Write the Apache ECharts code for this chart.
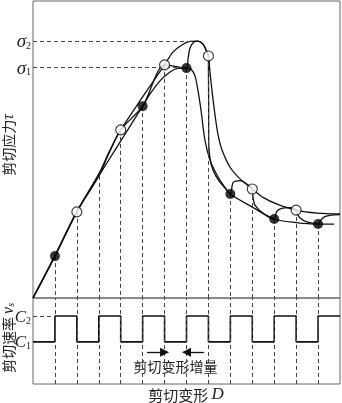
<!DOCTYPE html>
<html><head><meta charset="utf-8">
<script src="https://cdn.jsdelivr.net/npm/echarts@6/dist/echarts.min.js"></script>
<style>html,body{margin:0;padding:0;background:#fff}#c{width:342px;height:403px}</style>
</head><body><div id="c"></div>
<script>
// ---- data (x: shear deformation step index, y: stress in relative units) ----
const sigma1 = 77.6;
const sigma2 = 86.5;
const sigma2End = 7.3;     // where the sigma2 guide meets the peak
const sigma1End = 7;       // where the sigma1 guide meets the C1 peak
const C1 = 4.9;            // low shear rate level
const C2 = 7.9;            // high shear rate level
const rateSchedule = ['C1','C2','C1','C2','C1','C2','C1','C2','C1','C2','C1','C2','C1','C2'];

// continuous curve at the high rate C2
const curveC2 = [[0,0],[1,14.3],[2,29.2],[3,41.8],[3.51,49.8],[4,56.6],[5,67.7],[6,78.5],
  [6.38,82.8],[6.79,85.2],[7.16,86.4],[7.52,86.5],[7.75,85.5],[7.89,83.5],[8,81.5],
  [8.07,76.1],[8.16,70.0],[8.3,61.6],[8.44,54.9],[8.62,49.8],[8.98,44.1],[9.44,40.1],
  [10,36.7],[10.53,33.7],[11.13,31.6],[12,29.6],[12.95,28.6],[14,28.3]];
// continuous curve at the low rate C1
const curveC1 = [[0,0],[1,14.1],[2,29.0],[3,41.1],[3.74,49.8],[5,64.6],[5.34,68.7],[5.79,73.1],
  [6.25,76.1],[6.61,77.3],[7,77.4],[7.2,77.1],[7.39,74.7],[7.52,70.0],[7.66,63.3],[7.84,53.2],
  [8.07,46.5],[8.39,41.4],[8.71,37.7],[9,35.0],[10,30.6],[11,26.6],[12,25.4],[13,24.9],[13.73,24.9]];
// path under step-changing shear rate
const stepPath = [[0,0],[1,14.1],[2,29.0],[3,41.1],[3.5,49.3],[4,56.6],[5,64.6],[6,78.5],[6.48,78.0],
  [7,77.4],[7.07,80.5],[7.16,84.2],[7.34,86.2],[7.52,86.5],[7.75,85.5],[7.89,83.5],[8,81.5],
  [8.0,76.8],[8.01,66.7],[8.01,53.2],[8.07,47.1],[8.21,43.1],[8.48,39.4],[8.8,36.7],[9,35.0],
  [9.13,38.9],[9.44,39.5],[9.75,38.4],[10,36.7],
  [10.03,34.1],[10.12,31.3],[10.5,28.5],[11,26.6],
  [11.11,29.1],[11.34,30.2],[11.72,30.4],[11.95,29.9],[12,29.6],
  [12.04,28.6],[12.18,26.9],[12.49,25.6],[12.86,25.1],[13,24.9],
  [13.13,26.3],[13.31,27.4],[13.59,27.9],[14,28.1]];
const filledMarks = [[1,14.1],[5,64.6],[7,77.4],[9,35.0],[11,26.6],[13,24.9]];
const openMarks = [[2,29.0],[4,56.6],[6,78.5],[8,81.5],[10,36.7],[12,29.6]];
const dropTops = [[1,14.1],[2,29.0],[3,41.1],[4,56.6],[5,64.6],[6,78.5],[7,77.4],[8,81.5],
  [9,35.0],[10,36.7],[11,26.6],[12,29.6],[13,24.9]];
const incrementArrow = {from: 6, to: 7, y: 3.7};

// ---- build ----
const levels = {C1: C1, C2: C2};
const wave = [];
rateSchedule.forEach((r, i) => { wave.push([i, levels[r]]); wave.push([i + 1, levels[r]]); });

const dash = {type: [4, 3], color: '#444', width: 1};
const upperDash = dropTops.map(p => [{coord: [p[0], p[1]]}, {coord: [p[0], 0]}]);
upperDash.push([{coord: [0, sigma2]}, {coord: [sigma2End, sigma2]}]);
upperDash.push([{coord: [0, sigma1]}, {coord: [sigma1End, sigma1]}]);
const lowerDash = dropTops.map(p => [{coord: [p[0], 0]}, {coord: [p[0], 10]}]);
lowerDash.push([{coord: [0, C2]}, {coord: [1, C2]}]);

const curveStyle = {color: '#111', width: 1.3};
const axX = i => ({type: 'value', gridIndex: i, min: 0, max: 14, show: false});
const chart = echarts.init(document.getElementById('c'));
chart.setOption({
  animation: false,
  grid: [
    {left: 33, top: 1, width: 307, height: 297, show: true, borderColor: '#666', borderWidth: 1},
    {left: 33, top: 298, width: 307, height: 86, show: true, borderColor: '#666', borderWidth: 1}
  ],
  xAxis: [axX(0), axX(1)],
  yAxis: [
    {type: 'value', gridIndex: 0, min: 0, max: 100, show: false},
    {type: 'value', gridIndex: 1, min: 0, max: 10, show: false}
  ],
  series: [
    {type: 'line', xAxisIndex: 0, yAxisIndex: 0, data: [[0, 0]], symbol: 'none', lineStyle: {opacity: 0}, z: 1,
     markLine: {silent: true, symbol: 'none', label: {show: false}, lineStyle: dash, data: upperDash}},
    {type: 'line', xAxisIndex: 0, yAxisIndex: 0, data: curveC2, showSymbol: false, smooth: 0.3, lineStyle: curveStyle, z: 3},
    {type: 'line', xAxisIndex: 0, yAxisIndex: 0, data: curveC1, showSymbol: false, smooth: 0.3, lineStyle: curveStyle, z: 3},
    {type: 'line', xAxisIndex: 0, yAxisIndex: 0, data: stepPath, showSymbol: false, smooth: 0.3, lineStyle: curveStyle, z: 3},
    {type: 'scatter', xAxisIndex: 0, yAxisIndex: 0, data: filledMarks, symbol: 'circle', symbolSize: 10,
     itemStyle: {color: '#000'}, z: 5},
    {type: 'scatter', xAxisIndex: 0, yAxisIndex: 0, data: openMarks, symbol: 'circle', symbolSize: 10,
     itemStyle: {color: '#fff', borderColor: '#000', borderWidth: 1.1}, z: 5},
    {type: 'line', xAxisIndex: 1, yAxisIndex: 1, data: wave, showSymbol: false, lineStyle: {color: '#111', width: 1.6}, z: 3,
     markLine: {silent: true, symbol: 'none', label: {show: false}, lineStyle: dash, data: lowerDash}},
    {type: 'line', xAxisIndex: 1, yAxisIndex: 1, data: [[0, 0]], symbol: 'none', lineStyle: {opacity: 0}, z: 4,
     markLine: {silent: true, symbol: ['none', 'triangle'], symbolSize: 9, label: {show: false},
       lineStyle: {type: 'solid', color: '#111', width: 1.3},
       data: [
         [{coord: [incrementArrow.from - 0.8, incrementArrow.y]}, {coord: [incrementArrow.from, incrementArrow.y]}],
         [{coord: [incrementArrow.to + 0.8, incrementArrow.y]}, {coord: [incrementArrow.to, incrementArrow.y]}]
       ]}}
  ]
});

// ---- text placed from axis scales ----
const serifI = {fontFamily: 'Liberation Serif', fontStyle: 'italic', fill: '#222'};
const cjk = 'Noto Sans CJK SC';
function py(grid, v) { return chart.convertToPixel({gridIndex: grid}, [0, v])[1]; }
function px(grid, v) { return chart.convertToPixel({gridIndex: grid}, [v, 0])[0]; }
function sub(main, s, size, x, y) {
  return {type: 'text', x: x, y: y, style: {text: '{m|' + main + '}{s|' + s + '}', align: 'right', verticalAlign: 'middle',
    rich: {m: Object.assign({fontSize: size, lineHeight: 18}, serifI),
           s: {fontFamily: 'Liberation Serif', fontSize: 10, fill: '#222', verticalAlign: 'bottom', lineHeight: 18, padding: [7, 0, 0, 0]}}}};
}
const midArrow = (px(1, incrementArrow.from) + px(1, incrementArrow.to)) / 2;
chart.setOption({
  graphic: [
    sub('σ', '2', 19, 31, py(0, sigma2) + 1),
    sub('σ', '1', 19, 31, py(0, sigma1) + 1),
    sub('C', '2', 17, 31, py(1, C2) + 1),
    sub('C', '1', 17, 31, py(1, C1) + 1),
    {type: 'text', x: 9, y: 145, rotation: Math.PI / 2,
     style: {text: '剪切应力{t|τ}', align: 'center', verticalAlign: 'middle', font: '14px "' + cjk + '"', fill: '#222',
       rich: {t: Object.assign({fontSize: 16}, serifI)}}},
    {type: 'text', x: 9, y: 338, rotation: Math.PI / 2,
     style: {text: '剪切速率 {v|v}{s|s}', align: 'center', verticalAlign: 'middle', font: '14px "' + cjk + '"', fill: '#222',
       rich: {v: Object.assign({fontSize: 16}, serifI), s: Object.assign({fontSize: 10, padding: [5, 0, 0, 0]}, serifI)}}},
    {type: 'text', x: midArrow, y: 367,
     style: {text: '剪切变形增量', align: 'center', verticalAlign: 'middle', font: '14px "' + cjk + '"', fill: '#222'}},
    {type: 'text', x: 186, y: 395,
     style: {text: '剪切变形 {d|D}', align: 'center', verticalAlign: 'middle', font: '15px "' + cjk + '"', fill: '#222',
       rich: {d: Object.assign({fontSize: 17}, serifI)}}}
  ]
});
</script></body></html>
